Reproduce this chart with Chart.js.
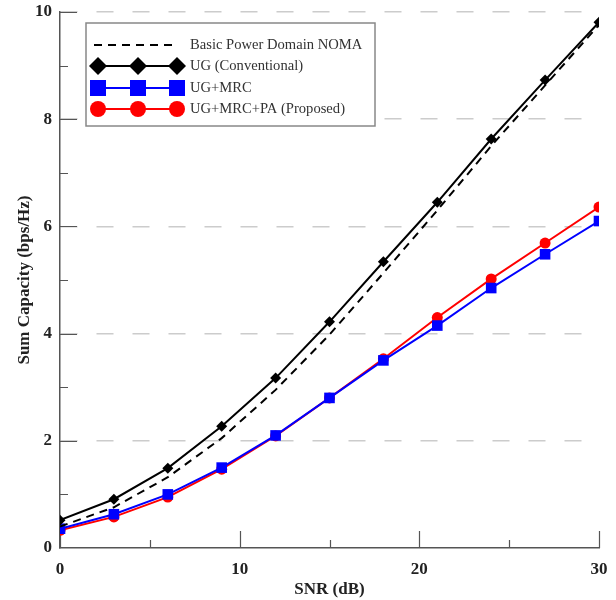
<!DOCTYPE html>
<html>
<head>
<meta charset="utf-8">
<script src="https://cdn.jsdelivr.net/npm/chart.js@4.4.1/dist/chart.umd.min.js"></script>
<style>
  html, body { margin: 0; padding: 0; background: #fff; }
  #wrap { width: 616px; height: 600px; }
</style>
</head>
<body>
<div id="wrap"><canvas id="chart" width="616" height="600"></canvas></div>
<script>
// SNR points (dB)
var snr = [0, 3, 6, 9, 12, 15, 18, 21, 24, 27, 30];
// sum capacity (bps/Hz)
var noma     = [0.40, 0.76, 1.32, 2.05, 2.95, 3.98, 5.13, 6.30, 7.50, 8.63, 9.76];
var ugConv   = [0.52, 0.91, 1.49, 2.27, 3.17, 4.22, 5.34, 6.45, 7.63, 8.73, 9.81];
var ugMrc    = [0.36, 0.63, 1.00, 1.50, 2.10, 2.80, 3.50, 4.15, 4.85, 5.48, 6.10];
var ugMrcPa  = [0.33, 0.58, 0.95, 1.47, 2.09, 2.80, 3.53, 4.30, 5.02, 5.69, 6.36];
var seriesNames = ['Basic Power Domain NOMA', 'UG (Conventional)', 'UG+MRC', 'UG+MRC+PA (Proposed)'];

function pts(ys) {
    return snr.map(function (x, i) { return { x: x, y: ys[i] }; });
}

var serif = '"Liberation Serif", "Times New Roman", serif';

// inward tick marks on both axes
var innerTicks = {
    id: 'innerTicks',
    beforeDatasetsDraw: function (chart) {
        var ctx = chart.ctx, a = chart.chartArea;
        var xs = chart.scales.x, ys = chart.scales.y;
        ctx.save();
        ctx.strokeStyle = '#555';
        ctx.lineWidth = 1.2;
        ctx.beginPath();
        for (var v = 0; v <= 30; v += 5) {
            var px = Math.round(xs.getPixelForValue(v)) + 0.5;
            var len = (v % 10 === 0) ? 17 : 8;
            ctx.moveTo(px, a.bottom);
            ctx.lineTo(px, a.bottom - len);
        }
        for (var t = 1; t <= 10; t += 1) {
            var py = Math.round(ys.getPixelForValue(t)) + 0.5;
            ctx.moveTo(a.left, py);
            ctx.lineTo(a.left + (t % 2 === 0 ? 17 : 8), py);
        }
        ctx.stroke();
        ctx.restore();
    }
};

function drawMarker(ctx, style, x, y, r, color) {
    ctx.fillStyle = color;
    ctx.beginPath();
    if (style === 'rectRot') {
        ctx.moveTo(x - r, y); ctx.lineTo(x, y - r); ctx.lineTo(x + r, y); ctx.lineTo(x, y + r);
        ctx.closePath();
    } else if (style === 'rect') {
        ctx.rect(x - r, y - r, 2 * r, 2 * r);
    } else {
        ctx.arc(x, y, r, 0, Math.PI * 2);
    }
    ctx.fill();
}

// boxed legend inside the plot, top-left
var boxLegend = {
    id: 'boxLegend',
    afterDraw: function (chart) {
        var ctx = chart.ctx;
        var bx = 86, by = 23, bw = 289, bh = 103;
        ctx.save();
        ctx.fillStyle = '#fff';
        ctx.fillRect(bx, by, bw, bh);
        ctx.strokeStyle = '#888';
        ctx.lineWidth = 1.5;
        ctx.strokeRect(bx, by, bw, bh);

        var rows = [45, 66, 88, 109];
        var x1 = 94, x2 = 178;
        var mk = [98, 138, 177];
        chart.data.datasets.forEach(function (ds, i) {
            var y = rows[i];
            ctx.strokeStyle = ds.borderColor;
            ctx.lineWidth = 2;
            ctx.setLineDash(ds.borderDash || []);
            ctx.beginPath();
            ctx.moveTo(x1, y); ctx.lineTo(x2, y);
            ctx.stroke();
            ctx.setLineDash([]);
            if (ds.pointRadius > 0) {
                var r = ds.pointStyle === 'rectRot' ? 9 : 8;
                mk.forEach(function (mx) { drawMarker(ctx, ds.pointStyle, mx, y, r, ds.pointBackgroundColor); });
            }
            ctx.fillStyle = '#333';
            ctx.font = '14.6px ' + serif;
            ctx.textBaseline = 'middle';
            ctx.textAlign = 'left';
            ctx.fillText(ds.label, 190, y);
        });
        ctx.restore();
    }
};

new Chart(document.getElementById('chart'), {
    type: 'line',
    data: {
        datasets: [
            {
                label: seriesNames[0], data: pts(noma),
                borderColor: '#000', borderWidth: 2, borderDash: [8, 6],
                pointRadius: 0, pointStyle: 'circle', pointBackgroundColor: '#000'
            },
            {
                label: seriesNames[1], data: pts(ugConv),
                borderColor: '#000', borderWidth: 2,
                pointStyle: 'rectRot', pointRadius: 5.5, pointBackgroundColor: '#000', pointBorderWidth: 0
            },
            {
                label: seriesNames[2], data: pts(ugMrc),
                borderColor: '#0000ff', borderWidth: 2,
                pointStyle: 'rect', pointRadius: 7.5, pointBackgroundColor: '#0000ff', pointBorderWidth: 0
            },
            {
                label: seriesNames[3], data: pts(ugMrcPa),
                borderColor: '#ff0000', borderWidth: 2,
                pointStyle: 'circle', pointRadius: 5.5, pointBackgroundColor: '#ff0000', pointBorderWidth: 0
            }
        ]
    },
    options: {
        responsive: false,
        animation: false,
        layout: { padding: { top: 12, right: 17, left: 0, bottom: 0 } },
        plugins: {
            legend: { display: false },
            tooltip: { enabled: false }
        },
        scales: {
            x: {
                type: 'linear', min: 0, max: 30,
                afterFit: function (s) {
                    s.height = 52;
                    s.paddingLeft = 0; s.paddingRight = 0;
                },
                ticks: {
                    stepSize: 5, padding: 11, color: '#222',
                    font: { family: serif, size: 17, weight: 'bold' },
                    callback: function (v) { return v % 10 === 0 ? v : ''; },
                    maxRotation: 0
                },
                grid: { drawOnChartArea: false, drawTicks: false },
                border: { display: true, color: '#555', width: 1.5 },
                title: {
                    display: true, text: 'SNR (dB)', color: '#222',
                    font: { family: serif, size: 17, weight: 'bold' },
                    padding: { top: 0, bottom: 0 }
                }
            },
            y: {
                min: 0, max: 10,
                afterFit: function (s) {
                    s.width = 60;
                    s.paddingTop = 0; s.paddingBottom = 0;
                },
                ticks: {
                    stepSize: 1, padding: 8, color: '#222',
                    font: { family: serif, size: 17, weight: 'bold' },
                    callback: function (v) { return v % 2 === 0 ? v : ''; }
                },
                grid: {
                    drawTicks: false,
                    color: function (c) {
                        var v = c.tick && c.tick.value;
                        return (v > 0 && v % 2 === 0) ? '#cccccc' : 'rgba(0,0,0,0)';
                    },
                    lineWidth: 1.5
                },
                border: { display: true, color: '#555', width: 1.5, dash: [17, 19], dashOffset: 0 },
                title: {
                    display: true, text: 'Sum Capacity (bps/Hz)', color: '#222',
                    font: { family: serif, size: 17, weight: 'bold' },
                    padding: { top: 14, bottom: 0 }
                }
            }
        }
    },
    plugins: [innerTicks, boxLegend]
});
</script>
</body>
</html>
